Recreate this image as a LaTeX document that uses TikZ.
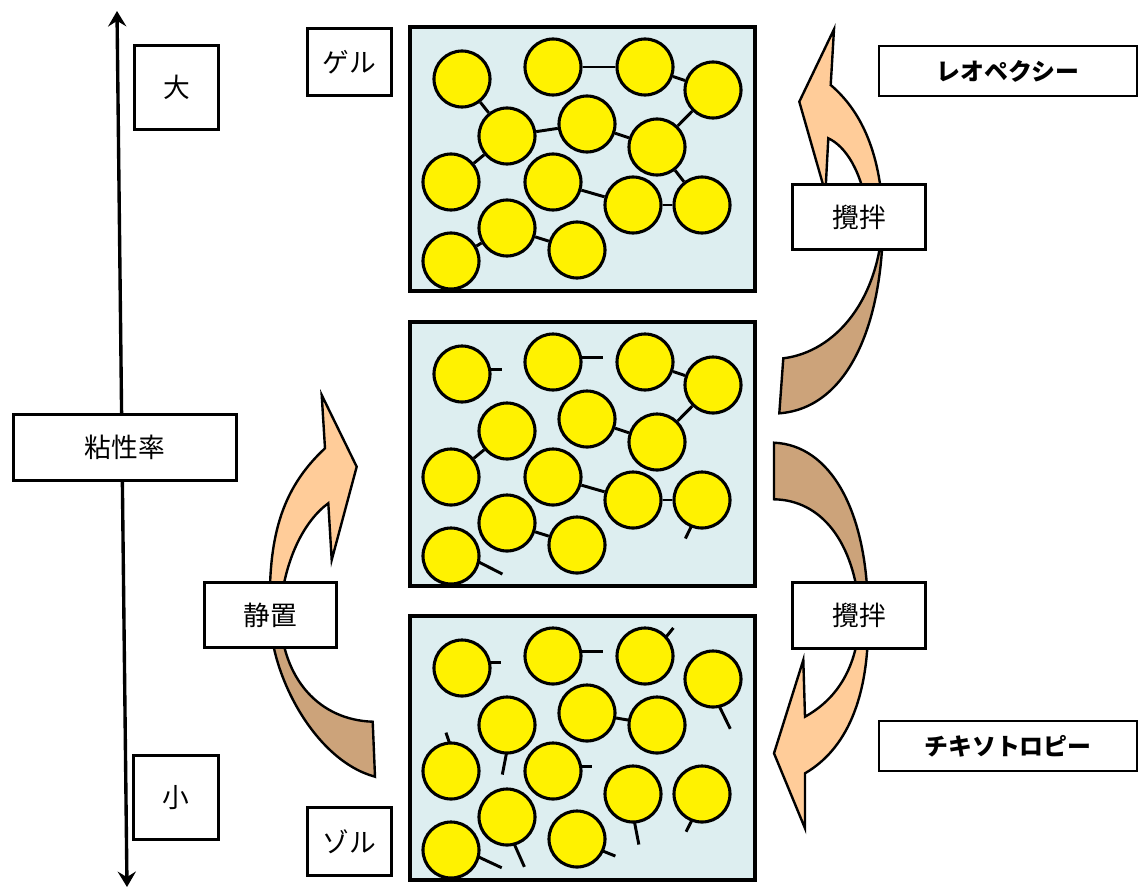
\documentclass[tikz,border=0pt]{standalone}
\usepackage{fontspec}
\setmainfont{Noto Sans CJK JP}
\usetikzlibrary{arrows.meta}
\definecolor{solblue}{RGB}{221,238,240}
\definecolor{frontorange}{RGB}{255,204,153}
\definecolor{backbrown}{RGB}{204,163,122}

\begin{document}
\begin{tikzpicture}[
    x=0.025cm, y=-0.025cm,
    >={Stealth[length=11pt, width=13pt, inset=4pt]},
    panel/.style={draw, line width=2.8pt, fill=solblue},
    bead/.style={circle, draw, line width=2.2pt, fill=yellow, minimum size=1.4cm, inner sep=0pt},
    bond/.style={line width=2.1pt},
    tagbox/.style={rectangle, draw, line width=2.3pt, fill=white, inner sep=0pt, font=\fontsize{19}{23}\selectfont},
    namebox/.style={rectangle, draw, line width=1.1pt, fill=white, inner sep=0pt, minimum width=6.45cm, minimum height=1.25cm, font=\fontsize{17}{21}\selectfont\bfseries},
    turn/.style={draw, line width=1.7pt, fill=frontorange},
    turnback/.style={turn, fill=backbrown},
    axis/.style={<->, line width=2.4pt}
]

\useasboundingbox (0,0) rectangle (1139,889);

% Viscosity axis
\coordinate (vtop) at (117,11);
\coordinate (vbot) at (127,887);
\draw[axis] (vtop) -- (vbot);

% Three states: gel (g), intermediate (m), sol (s)
\foreach \p/\oy/\gy in {g/27/120, m/322/120, s/616/109} {
  \begin{scope}[shift={(410,\oy)}]
    \draw[panel] (0,0) rectangle (345,264);
    \foreach \n/\x/\y in {A/52/52, B/143/40, C/235/40, D/303/63, E/97/109, F/177/97, H/41/155,
                          I/143/155, J/223/178, K/292/178, L/97/201, M/167/223, N/41/234}
      \node[bead] (\p-\n) at (\x,\y) {};
    \node[bead] (\p-G) at (247,\gy) {};
  \end{scope}
}

% Gel: linked network
\foreach \a/\b in {A/E, E/F, E/H, B/C, C/D, D/G, F/G, G/K, I/J, J/K, L/N, L/M}
  \draw[bond] (g-\a) -- (g-\b);

% Partly broken
\foreach \a/\b in {C/D, D/G, F/G, E/H, I/J, J/K, L/M}
  \draw[bond] (m-\a) -- (m-\b);
\foreach \n/\a/\d/\l in {A/-10/0/12, B/-10/0/22, K/112/116/14, N/12/27/27}
  \draw[bond] (m-\n.center) ++(\a:28) -- ++(\d:\l);

% Sol: loose ends
\draw[bond] (s-F) -- (s-G);
\foreach \n/\a/\d/\l in {A/-12/0/12, B/-9/0/22, C/-42/-51/12, D/77/64/25, E/91/101/22, H/-93/-109/11,
                         I/-10/0/11, J/87/79/23, K/111/117/13, L/75/66/25, M/25/22/14, N/14/25/26}
  \draw[bond] (s-\n.center) ++(\a:28) -- ++(\d:\l);

% Stirring: middle -> gel
\draw[turnback] (783.3,358.3) -- (779.3,413.3) .. controls (850,408) and (884,320) .. (883,215)
  .. controls (881,300) and (835,352) .. (783.3,358.3) -- cycle;
\draw[turn] (883,215) .. controls (880,150) and (860,110) .. (830.7,85) -- (834,29.3) -- (799.3,101.7)
  -- (825.4,192.9) -- (828.3,138.3) .. controls (845,146) and (862,170) .. (868,215) -- cycle;

% Stirring: middle -> sol
\draw[turnback] (774,442.7) .. controls (830,445) and (868,510) .. (868,615) -- (860,615)
  .. controls (855,540) and (820,500) .. (774,499.3) -- cycle;
\draw[turn] (868,615) .. controls (870,700) and (845,750) .. (805,773.3) -- (805,828.3) -- (774,753.3)
  -- (803.3,660) -- (805,716.7) .. controls (835,700) and (858,670) .. (860,615) -- cycle;

% Rest: sol -> middle
\draw[turnback] (270,615) .. controls (270,675) and (315,760.5) .. (375,776.7) -- (372.7,721.7)
  .. controls (320,720) and (282,680) .. (280,615) -- cycle;
\draw[turn] (270,615) .. controls (268,540) and (280,490) .. (325,448.3) -- (321.7,395) -- (356.7,466.7)
  -- (331.7,560) -- (328.3,503.3) .. controls (305,520) and (283,560) .. (280,615) -- cycle;

% Labels
\node[tagbox, minimum width=2.1cm, minimum height=2.1cm] (big) at (176.5,87.5) {大};
\node[tagbox, minimum width=2.125cm, minimum height=2.1cm] (small) at (176,797.5) {小};
\node[tagbox, minimum width=5.575cm, minimum height=1.65cm] (visc) at (125,447.5) {粘性率};
\node[tagbox, minimum width=2.1cm, minimum height=1.675cm] (gel) at (349.5,62) {ゲル};
\node[tagbox, minimum width=2.1cm, minimum height=1.7cm] (sol) at (349.5,841.5) {ゾル};
\node[tagbox, minimum width=3.3cm, minimum height=1.625cm] (rest) at (270.5,615) {静置};
\node[tagbox, minimum width=3.325cm, minimum height=1.625cm] (stirup) at (859,217) {攪拌};
\node[tagbox, minimum width=3.325cm, minimum height=1.65cm] (stirdown) at (859,615.5) {攪拌};
\node[namebox] (rheo) at (1008,71) {レオペクシー};
\node[namebox] (thixo) at (1008,746) {チキソトロピー};

\end{tikzpicture}
\end{document}
